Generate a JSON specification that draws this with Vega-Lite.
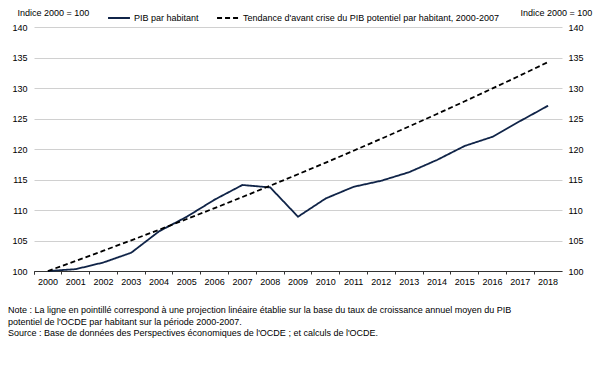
{
  "$schema": "https://vega.github.io/schema/vega-lite/v6.json",
  "width": 528,
  "height": 244,
  "autosize": "none",
  "padding": {"left": 34, "top": 27, "right": 51, "bottom": 102},
  "background": "white",
  "config": {"font": "Liberation Sans", "view": {"stroke": null}},
  "title": {
    "text": [
      "Note : La ligne en pointillé correspond à une projection linéaire établie sur la base du taux de croissance annuel moyen du PIB",
      "potentiel de l'OCDE par habitant sur la période 2000-2007.",
      "Source : Base de données des Perspectives économiques de l'OCDE ; et calculs de l'OCDE."
    ],
    "orient": "bottom",
    "anchor": "start",
    "frame": "group",
    "dx": -26,
    "offset": 20,
    "fontSize": 9,
    "fontWeight": "normal",
    "lineHeight": 11.5,
    "color": "#000000"
  },
  "data": {
    "values": [
      {"year": "2000", "series": "PIB par habitant", "value": 100.0},
      {"year": "2001", "series": "PIB par habitant", "value": 100.3},
      {"year": "2002", "series": "PIB par habitant", "value": 101.4},
      {"year": "2003", "series": "PIB par habitant", "value": 103.0},
      {"year": "2004", "series": "PIB par habitant", "value": 106.5},
      {"year": "2005", "series": "PIB par habitant", "value": 108.9},
      {"year": "2006", "series": "PIB par habitant", "value": 111.7},
      {"year": "2007", "series": "PIB par habitant", "value": 114.1},
      {"year": "2008", "series": "PIB par habitant", "value": 113.7},
      {"year": "2009", "series": "PIB par habitant", "value": 108.9},
      {"year": "2010", "series": "PIB par habitant", "value": 111.9},
      {"year": "2011", "series": "PIB par habitant", "value": 113.8},
      {"year": "2012", "series": "PIB par habitant", "value": 114.8},
      {"year": "2013", "series": "PIB par habitant", "value": 116.2},
      {"year": "2014", "series": "PIB par habitant", "value": 118.2},
      {"year": "2015", "series": "PIB par habitant", "value": 120.5},
      {"year": "2016", "series": "PIB par habitant", "value": 122.0},
      {"year": "2017", "series": "PIB par habitant", "value": 124.6},
      {"year": "2018", "series": "PIB par habitant", "value": 127.1},
      {"year": "2000", "series": "Tendance d'avant crise du PIB potentiel par habitant, 2000-2007", "value": 100.0},
      {"year": "2001", "series": "Tendance d'avant crise du PIB potentiel par habitant, 2000-2007", "value": 101.65},
      {"year": "2002", "series": "Tendance d'avant crise du PIB potentiel par habitant, 2000-2007", "value": 103.33},
      {"year": "2003", "series": "Tendance d'avant crise du PIB potentiel par habitant, 2000-2007", "value": 105.03},
      {"year": "2004", "series": "Tendance d'avant crise du PIB potentiel par habitant, 2000-2007", "value": 106.76},
      {"year": "2005", "series": "Tendance d'avant crise du PIB potentiel par habitant, 2000-2007", "value": 108.52},
      {"year": "2006", "series": "Tendance d'avant crise du PIB potentiel par habitant, 2000-2007", "value": 110.31},
      {"year": "2007", "series": "Tendance d'avant crise du PIB potentiel par habitant, 2000-2007", "value": 112.13},
      {"year": "2008", "series": "Tendance d'avant crise du PIB potentiel par habitant, 2000-2007", "value": 113.98},
      {"year": "2009", "series": "Tendance d'avant crise du PIB potentiel par habitant, 2000-2007", "value": 115.86},
      {"year": "2010", "series": "Tendance d'avant crise du PIB potentiel par habitant, 2000-2007", "value": 117.77},
      {"year": "2011", "series": "Tendance d'avant crise du PIB potentiel par habitant, 2000-2007", "value": 119.72},
      {"year": "2012", "series": "Tendance d'avant crise du PIB potentiel par habitant, 2000-2007", "value": 121.69},
      {"year": "2013", "series": "Tendance d'avant crise du PIB potentiel par habitant, 2000-2007", "value": 123.70},
      {"year": "2014", "series": "Tendance d'avant crise du PIB potentiel par habitant, 2000-2007", "value": 125.74},
      {"year": "2015", "series": "Tendance d'avant crise du PIB potentiel par habitant, 2000-2007", "value": 127.82},
      {"year": "2016", "series": "Tendance d'avant crise du PIB potentiel par habitant, 2000-2007", "value": 129.93},
      {"year": "2017", "series": "Tendance d'avant crise du PIB potentiel par habitant, 2000-2007", "value": 132.07},
      {"year": "2018", "series": "Tendance d'avant crise du PIB potentiel par habitant, 2000-2007", "value": 134.25}
    ]
  },
  "encoding": {
    "x": {
      "field": "year",
      "type": "ordinal",
      "bandPosition": 0.5,
      "scale": {"type": "band", "paddingInner": 0, "paddingOuter": 0},
      "axis": {
        "title": null,
        "labelAngle": 0,
        "bandPosition": 0,
        "tickExtra": true,
        "domainColor": "#333333",
        "tickColor": "#333333",
        "tickSize": 3,
        "labelPadding": 3,
        "labelFontSize": 9,
        "labelColor": "#000000",
        "grid": false
      }
    },
    "y": {
      "field": "value",
      "type": "quantitative",
      "scale": {"domain": [100, 140], "nice": false, "zero": false}
    }
  },
  "layer": [
    {
      "mark": {"type": "line", "strokeWidth": 1.8},
      "encoding": {
        "y": {
          "field": "value",
          "type": "quantitative",
          "axis": {
            "orient": "left",
            "values": [100, 105, 110, 115, 120, 125, 130, 135, 140],
            "title": "Indice 2000 = 100",
            "titleAngle": 0,
            "titleAlign": "left",
            "titleBaseline": "middle",
            "titleX": -17,
            "titleY": -15,
            "titleFontSize": 9,
            "titleFontWeight": "normal",
            "titleColor": "#000000",
            "domain": false,
            "ticks": false,
            "labelPadding": 7,
            "labelFontSize": 9,
            "labelColor": "#000000",
            "grid": true,
            "gridColor": "#d0d0d0"
          }
        },
        "color": {
          "field": "series",
          "type": "nominal",
          "scale": {
            "domain": ["PIB par habitant", "Tendance d'avant crise du PIB potentiel par habitant, 2000-2007"],
            "range": ["#102448", "#000000"]
          },
          "legend": {
            "orient": "none",
            "legendX": 73,
            "legendY": -21,
            "direction": "horizontal",
            "title": null,
            "symbolType": "stroke",
            "symbolSize": 480,
            "symbolStrokeWidth": 2,
            "labelFontSize": 9,
            "labelLimit": 0,
            "labelColor": "#000000",
            "columnPadding": 14,
            "labelOffset": 3
          }
        },
        "strokeDash": {
          "field": "series",
          "type": "nominal",
          "scale": {
            "domain": ["PIB par habitant", "Tendance d'avant crise du PIB potentiel par habitant, 2000-2007"],
            "range": [[1, 0], [5, 3]]
          },
          "legend": {
            "orient": "none",
            "legendX": 73,
            "legendY": -21,
            "direction": "horizontal",
            "title": null,
            "symbolType": "stroke",
            "symbolSize": 480,
            "symbolStrokeWidth": 2,
            "labelFontSize": 9,
            "labelLimit": 0,
            "labelColor": "#000000",
            "columnPadding": 14,
            "labelOffset": 3
          }
        }
      }
    },
    {
      "mark": {"type": "line", "strokeOpacity": 0},
      "encoding": {
        "detail": {"field": "series"},
        "y": {
          "field": "value",
          "type": "quantitative",
          "axis": {
            "orient": "right",
            "values": [100, 105, 110, 115, 120, 125, 130, 135, 140],
            "title": "Indice 2000 = 100",
            "titleAngle": 0,
            "titleAlign": "left",
            "titleBaseline": "middle",
            "titleX": -42,
            "titleY": -15,
            "titleFontSize": 9,
            "titleFontWeight": "normal",
            "titleColor": "#000000",
            "domain": false,
            "ticks": false,
            "labelPadding": 6,
            "labelFontSize": 9,
            "labelColor": "#000000",
            "grid": false
          }
        }
      }
    }
  ],
  "resolve": {"axis": {"y": "independent"}}
}
